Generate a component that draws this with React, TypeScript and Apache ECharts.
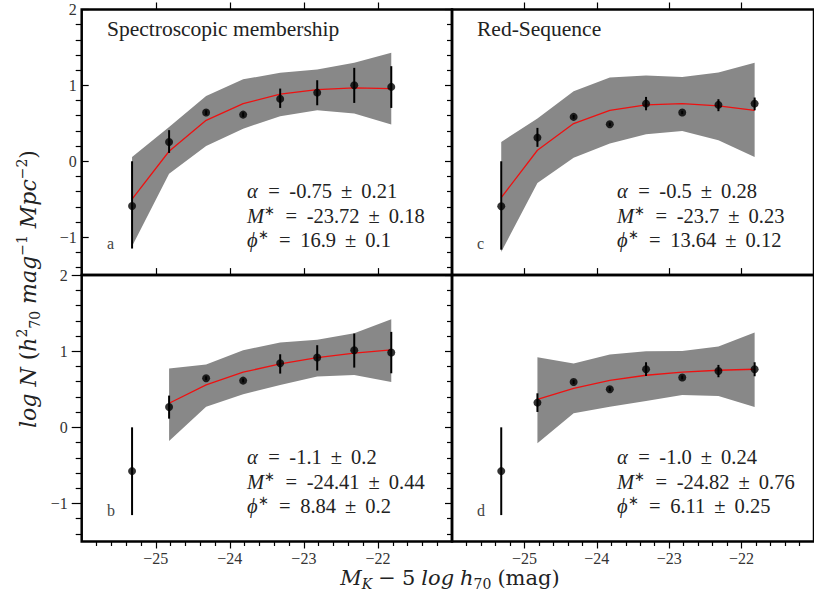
import React, { useEffect, useRef } from "react";
import * as echarts from "echarts";

// ---------- data ----------
const magnitudes = [-25.32, -24.82, -24.32, -23.82, -23.32, -22.82, -22.32, -21.82];

// panel a: spectroscopic membership, all-bin fit
const specAY = [-0.59, 0.255, 0.642, 0.615, 0.822, 0.905, 1.002, 0.98];
const specAErrLo = [-1.15, 0.11, 0.61, 0.585, 0.703, 0.738, 0.769, 0.703];
const specAErrHi = [0.0, 0.41, 0.672, 0.645, 0.958, 1.068, 1.231, 1.253];
const specAFit = [-0.5, 0.132, 0.54, 0.76, 0.884, 0.945, 0.967, 0.958];
const specABandHi = [0.057, 0.453, 0.86, 1.08, 1.165, 1.209, 1.297, 1.429];
const specABandLo = [-1.12, -0.163, 0.202, 0.43, 0.593, 0.672, 0.629, 0.484];

// panel c: red sequence, all-bin fit
const redCY = [-0.593, 0.312, 0.585, 0.488, 0.76, 0.642, 0.743, 0.76];
const redCErrLo = [-1.165, 0.19, 0.56, 0.465, 0.672, 0.62, 0.66, 0.672];
const redCErrHi = [0.0, 0.44, 0.61, 0.51, 0.848, 0.665, 0.818, 0.84];
const redCFit = [-0.479, 0.145, 0.497, 0.672, 0.743, 0.76, 0.73, 0.672];
const redCBandHi = [0.255, 0.563, 0.923, 1.103, 1.13, 1.112, 1.169, 1.297];
const redCBandLo = [-1.196, -0.286, 0.048, 0.233, 0.356, 0.4, 0.277, 0.057];

// panel b: spectroscopic membership, faintest bin excluded
const specBY = [-0.575, 0.268, 0.645, 0.614, 0.842, 0.917, 1.013, 0.982];
const specBErrLo = [-1.153, 0.114, 0.62, 0.59, 0.706, 0.746, 0.785, 0.71];
const specBErrHi = [0.0, 0.417, 0.67, 0.64, 0.96, 1.079, 1.232, 1.254];
const specBFit = [null, 0.316, 0.557, 0.724, 0.833, 0.917, 0.974, 1.018];
const specBBandHi = [null, 0.772, 0.825, 1.013, 1.114, 1.149, 1.237, 1.421];
const specBBandLo = [null, -0.18, 0.272, 0.434, 0.557, 0.667, 0.689, 0.596];

// panel d: red sequence, faintest bin excluded
const redDY = [-0.575, 0.325, 0.596, 0.5, 0.763, 0.654, 0.741, 0.763];
const redDErrLo = [-1.153, 0.202, 0.57, 0.475, 0.675, 0.63, 0.658, 0.671];
const redDErrHi = [0.0, 0.447, 0.62, 0.525, 0.855, 0.68, 0.82, 0.855];
const redDFit = [null, 0.368, 0.513, 0.618, 0.684, 0.724, 0.75, 0.763];
const redDBandHi = [null, 0.921, 0.838, 0.956, 1.0, 1.004, 1.061, 1.246];
const redDBandLo = [null, -0.21, 0.184, 0.272, 0.346, 0.425, 0.412, 0.268];

// fit parameters text: [alpha, M*, phi*] as [value, error]
const fitA = [["-0.75", "0.21"], ["-23.72", "0.18"], ["16.9", "0.1"]];
const fitC = [["-0.5", "0.28"], ["-23.7", "0.23"], ["13.64", "0.12"]];
const fitB = [["-1.1", "0.2"], ["-24.41", "0.44"], ["8.84", "0.2"]];
const fitD = [["-1.0", "0.24"], ["-24.82", "0.76"], ["6.11", "0.25"]];

// axes ticks
const xMajorTicks = [-25, -24, -23, -22];
const xMinorTicks = [-25.8, -25.6, -25.4, -25.2, -24.8, -24.6, -24.4, -24.2, -23.8, -23.6, -23.4, -23.2,
  -22.8, -22.6, -22.4, -22.2, -21.8, -21.6, -21.4, -21.2];
const yMajorTicks = [-1, 0, 1, 2];
const yMinorTicks = [-1.4, -1.2, -0.8, -0.6, -0.4, -0.2, 0.2, 0.4, 0.6, 0.8, 1.2, 1.4, 1.6, 1.8];

const X_MIN = -26, X_MAX = -21, Y_MIN = -1.5, Y_MAX = 2;

const FONT = "Liberation Serif";
const TFONT = "DejaVu Serif";
const minus = (v: number) => (v < 0 ? "\u2212" + Math.abs(v) : String(v));

export default function App() {
  const ref = useRef<HTMLDivElement>(null);
  useEffect(() => {
    if (!ref.current) return;
    const chart = echarts.init(ref.current, undefined, { renderer: "svg" });

    const L = 81.7, M = 452, W = 370.3;
    const panels = [
      { left: L, top: 9.5, height: 265.6, row: 0, col: 0, y: specAY, lo: specAErrLo, hi: specAErrHi, fit: specAFit, bHi: specABandHi, bLo: specABandLo },
      { left: M, top: 9.5, height: 265.6, row: 0, col: 1, y: redCY, lo: redCErrLo, hi: redCErrHi, fit: redCFit, bHi: redCBandHi, bLo: redCBandLo },
      { left: L, top: 275.1, height: 266.4, row: 1, col: 0, y: specBY, lo: specBErrLo, hi: specBErrHi, fit: specBFit, bHi: specBBandHi, bLo: specBBandLo },
      { left: M, top: 275.1, height: 266.4, row: 1, col: 1, y: redDY, lo: redDErrLo, hi: redDErrHi, fit: redDFit, bHi: redDBandHi, bLo: redDBandLo },
    ];

    const tickLine = { color: "#000", width: 1.2 };
    const labelStyle = { color: "#333", fontFamily: FONT, fontSize: 16 };

    const grid: any[] = [];
    const xAxis: any[] = [];
    const yAxis: any[] = [];
    const series: any[] = [];

    panels.forEach((p, g) => {
      grid.push({ left: p.left, top: p.top, width: W, height: p.height, show: true, borderColor: "#000", borderWidth: 2.5, backgroundColor: "transparent" });
      const bottomRow = p.row === 1;
      const base = { type: "value", gridIndex: g, min: X_MIN, max: X_MAX, splitLine: { show: false }, axisLine: { show: false, onZero: false } };
      xAxis.push({
        ...base, position: "bottom", show: bottomRow,
        axisTick: { show: true, inside: false, length: 7, customValues: xMajorTicks, lineStyle: tickLine },
        axisLabel: { show: true, customValues: xMajorTicks, margin: 9, formatter: (v: number) => minus(v), ...labelStyle },
      });
      xAxis.push({
        ...base, position: "bottom", show: bottomRow,
        axisTick: { show: true, inside: false, length: 4.5, customValues: xMinorTicks, lineStyle: tickLine },
        axisLabel: { show: false },
      });
      xAxis.push({
        ...base, position: "top", show: true,
        axisTick: { show: true, inside: false, length: 7, customValues: xMajorTicks, lineStyle: tickLine },
        axisLabel: { show: false },
      });
      const ybase = { type: "value", gridIndex: g, min: Y_MIN, max: Y_MAX, position: "left", splitLine: { show: false }, axisLine: { show: false, onZero: false } };
      const leftCol = p.col === 0;
      const majorInside = leftCol && !bottomRow;
      yAxis.push({
        ...ybase,
        axisTick: { show: true, inside: majorInside, length: leftCol ? (bottomRow ? 10 : 7) : 7, customValues: yMajorTicks, lineStyle: tickLine },
        axisLabel: { show: leftCol, customValues: yMajorTicks, margin: bottomRow ? 14 : 5, formatter: (v: number) => minus(v), ...labelStyle },
      });
      yAxis.push({
        ...ybase,
        axisTick: { show: true, inside: false, length: leftCol ? 6 : 5, customValues: yMinorTicks, lineStyle: tickLine },
        axisLabel: { show: false },
      });

      const xi = g * 3, yi = g * 2;
      const bandData = magnitudes.map((x, i) => [x, p.bLo[i], p.bHi[i]]).filter((d) => d[1] != null && d[2] != null);
      series.push({
        type: "custom", xAxisIndex: xi, yAxisIndex: yi, silent: true, z: 1,
        data: bandData, encode: { x: 0, y: [1, 2] },
        renderItem: (params: any, api: any) => {
          if (params.dataIndex !== 0) return null;
          const pts: number[][] = [];
          bandData.forEach((d) => pts.push(api.coord([d[0], d[2]])));
          for (let i = bandData.length - 1; i >= 0; i--) pts.push(api.coord([bandData[i][0], bandData[i][1]]));
          return { type: "polygon", shape: { points: pts }, style: { fill: "#888888", stroke: "none" } };
        },
      });
      series.push({
        type: "line", xAxisIndex: xi, yAxisIndex: yi, z: 3, symbol: "none", silent: true,
        data: magnitudes.map((x, i) => [x, p.fit[i]]).filter((d) => d[1] != null),
        lineStyle: { color: "#ee1111", width: 1.3 },
      });
      series.push({
        type: "custom", xAxisIndex: xi, yAxisIndex: yi, silent: true, z: 4,
        data: magnitudes.map((x, i) => [x, p.lo[i], p.hi[i]]), encode: { x: 0, y: [1, 2] },
        renderItem: (params: any, api: any) => {
          const a = api.coord([api.value(0), api.value(1)]);
          const b = api.coord([api.value(0), api.value(2)]);
          return { type: "line", shape: { x1: a[0], y1: a[1], x2: b[0], y2: b[1] }, style: { stroke: "#000", lineWidth: 2 } };
        },
      });
      series.push({
        type: "scatter", xAxisIndex: xi, yAxisIndex: yi, z: 5, silent: true,
        symbol: "circle", symbolSize: 8,
        data: magnitudes.map((x, i) => [x, p.y[i]]),
        itemStyle: { color: "#000" },
      });
    });

    const TC = "#222";
    const annRich = {
      it: { fontFamily: FONT, fontStyle: "italic", fontSize: 20.5, lineHeight: 24.5, color: TC },
      rm: { fontFamily: FONT, fontSize: 20.5, lineHeight: 24.5, color: TC },
      sup: { fontFamily: FONT, fontSize: 13, verticalAlign: "top", color: TC },
      ga: { fontFamily: FONT, fontSize: 20.5, width: 10.5 },
      gb: { fontFamily: FONT, fontSize: 20.5, width: 9.5 },
      gc: { fontFamily: FONT, fontSize: 20.5, width: 9 },
    };
    const line = (sym: string, f: string[]) =>
      `${sym}{ga| }{rm|=}{gb| }{rm|${f[0]}}{gc| }{rm|±}{gc| }{rm|${f[1]}}`;
    const annText = (f: string[][]) =>
      [line("{it|α}", f[0]), line("{it|M}{sup|∗}", f[1]), line("{it|ϕ}{sup|∗}", f[2])].join("\n");
    const ann = (x: number, y: number, f: string[][]) => ({
      type: "text", x, y, silent: true,
      style: { text: annText(f), rich: annRich, align: "left", verticalAlign: "top", fontFamily: FONT, fontSize: 20.5, fill: TC },
    });
    const label = (x: number, y: number, t: string, size = 16, color = "#444") => ({
      type: "text", x, y, silent: true,
      style: { text: t, fontFamily: FONT, fontSize: size, fill: color, align: "left", verticalAlign: "middle" },
    });

    const graphic: any[] = [
      label(107, 29, "Spectroscopic membership", 21.5, TC),
      label(477, 29, "Red-Sequence", 21.5, TC),
      label(107, 243, "a"),
      label(477, 243, "c"),
      label(107, 510, "b"),
      label(477, 510, "d"),
      ann(247, 179, fitA),
      ann(617, 179, fitC),
      ann(247, 445, fitB),
      ann(617, 445, fitD),
      {
        type: "text", x: 450, y: 578, silent: true,
        style: {
          text: "{it|M}{subit|K}{g| }{rm|−}{g| }{rm|5}{g| }{it|log}{g| }{it|h}{sub|70}{g| }{rm|(mag)}",
          align: "center", verticalAlign: "middle", fontFamily: TFONT, fontSize: 21, fill: TC,
          rich: {
            it: { fontFamily: TFONT, fontStyle: "italic", fontSize: 21, lineHeight: 26, color: TC },
            rm: { fontFamily: TFONT, fontSize: 21, lineHeight: 26, color: TC },
            sub: { fontFamily: TFONT, fontSize: 14, verticalAlign: "bottom", color: TC },
            subit: { fontFamily: TFONT, fontStyle: "italic", fontSize: 14, verticalAlign: "bottom", color: TC },
            g: { fontFamily: TFONT, fontSize: 21, width: 6 },
          },
        },
      },
      {
        type: "text", x: 28, y: 289, rotation: Math.PI / 2, silent: true,
        style: {
          text: "{it|log}{g| }{it|N}{g| }{rm|(}{it|h}{sup|2}{sub|70}{g| }{it|mag}{sup|−1}{g| }{it|Mpc}{sup|−2}{rm|)}",
          align: "center", verticalAlign: "middle", fontFamily: TFONT, fontSize: 22, fill: TC,
          rich: {
            it: { fontFamily: TFONT, fontStyle: "italic", fontSize: 22, lineHeight: 27, color: TC },
            rm: { fontFamily: TFONT, fontSize: 22, lineHeight: 27, color: TC },
            sup: { fontFamily: TFONT, fontSize: 14, verticalAlign: "top", color: TC },
            sub: { fontFamily: TFONT, fontSize: 14, verticalAlign: "bottom", color: TC },
            g: { fontFamily: TFONT, fontSize: 22, width: 7 },
          },
        },
      },
    ];

    chart.setOption({ animation: false, backgroundColor: "#fff", grid, xAxis, yAxis, series, graphic });
    return () => chart.dispose();
  }, []);
  return <div ref={ref} style={{ position: "absolute", left: 0, top: 0, width: 814, height: 605 }} />;
}
